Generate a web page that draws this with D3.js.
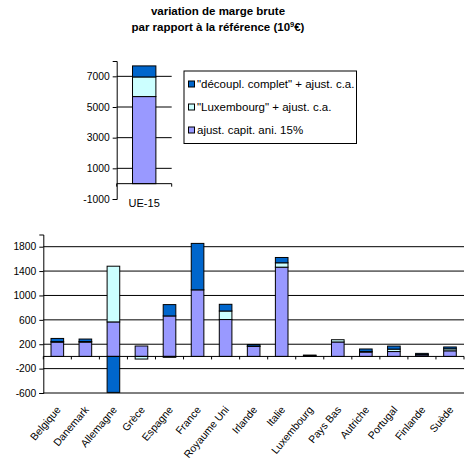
<!DOCTYPE html>
<html>
<head>
<meta charset="utf-8">
<script src="https://cdn.jsdelivr.net/npm/d3@7"></script>
<style>
  body { margin: 0; background: #fff; }
  svg { display: block; font-family: "Liberation Sans", Arial, sans-serif; }
</style>
</head>
<body>
<svg id="svg" width="466" height="470"></svg>
<script>
// series names (legend order, top to bottom)
var seriesNames = ['"découpl. complet" + ajust. c.a.', '"Luxembourg" + ajust. c.a.', 'ajust. capit. ani. 15%'];
var seriesKeys = ['ajust', 'lux', 'decoupl'];   // stacking order, bottom first

// EU total (top chart)
var euLabel = ['UE-15'];
var euAjust = [5680];
var euLux = [1280];
var euDecoupl = [720];
var euTicks = [-1000, 1000, 3000, 5000, 7000];

// per country (bottom chart)
var countries = ['Belgique', 'Danemark', 'Allemagne', 'Grèce', 'Espagne', 'France', 'Royaume Uni',
    'Irlande', 'Italie', 'Luxembourg', 'Pays Bas', 'Autriche', 'Portugal', 'Finlande', 'Suède'];
var ajust   = [235, 235, 566, 171, 664, 1092, 605, 165, 1464, 10, 237, 72, 80, 25, 92];
var lux     = [8, 10, 914, -43, -15, 0, 140, 5, 72, 0, 37, 10, 40, 5, 33];
var decoupl = [52, 40, -590, 0, 186, 762, 110, 25, 87, 12, 0, 40, 50, 20, 30];
var countryTicks = [-600, -200, 200, 600, 1000, 1400, 1800];

var colors = { ajust: '#9999ff', lux: '#ccffff', decoupl: '#0066cc' };
var legendKeys = ['decoupl', 'lux', 'ajust'];

var svg = d3.select('svg');

// title
svg.append('text')
    .attr('x', 218).attr('y', 15)
    .attr('text-anchor', 'middle')
    .attr('font-size', 11.5).attr('font-weight', 'bold')
    .text('variation de marge brute');
var t2 = svg.append('text')
    .attr('x', 218).attr('y', 31)
    .attr('text-anchor', 'middle')
    .attr('font-size', 11.5).attr('font-weight', 'bold');
t2.append('tspan').text('par rapport à la référence (10');
t2.append('tspan').attr('font-size', 7.5).attr('dy', -4).text('9');
t2.append('tspan').attr('dy', 4).text('€)');

function makeRows(labels, a, l, d) {
    return labels.map(function (c, i) {
        return { cat: c, ajust: a[i], lux: l[i], decoupl: d[i] };
    });
}

var stack = d3.stack().keys(seriesKeys).offset(d3.stackOffsetDiverging);

function drawChart(rows, opts) {
    var g = svg.append('g');
    var x = d3.scaleBand()
        .domain(rows.map(function (d) { return d.cat; }))
        .range([opts.left, opts.right])
        .paddingInner(opts.pad).paddingOuter(opts.pad / 2);
    var y = d3.scaleLinear().domain(opts.domain).range([opts.bottom, opts.top]);

    // gridlines
    g.selectAll('line.grid')
        .data(opts.grid)
        .enter()
        .append('line')
        .attr('x1', opts.left).attr('x2', opts.right)
        .attr('y1', function (d) { return y(d); })
        .attr('y2', function (d) { return y(d); })
        .attr('stroke', '#000').attr('stroke-width', 1);

    // y axis
    var yAxis = d3.axisLeft(y).tickValues(opts.ticks).tickSize(4).tickPadding(3)
        .tickFormat(function (d) { return String(d); });
    var ya = g.append('g')
        .attr('transform', 'translate(' + opts.left + ',0)')
        .call(yAxis);
    ya.select('.domain').attr('stroke', '#000');
    ya.selectAll('text').attr('font-size', 10.3).attr('fill', '#000')
        .style('font-family', '"Liberation Sans", Arial, sans-serif');

    // bars
    var layers = g.selectAll('g.layer')
        .data(stack(rows))
        .enter()
        .append('g')
        .attr('fill', function (d) { return colors[d.key]; });
    layers.selectAll('rect')
        .data(function (d) { return d.filter(function (s) { return s[1] !== s[0]; }); })
        .enter()
        .append('rect')
        .attr('x', function (d) { return x(d.data.cat); })
        .attr('width', x.bandwidth())
        .attr('y', function (d) { return y(Math.max(d[0], d[1])); })
        .attr('height', function (d) { return Math.abs(y(d[0]) - y(d[1])); })
        .attr('stroke', '#000').attr('stroke-width', 1);

    // category axis at zero
    var step = x.step();
    var bounds = d3.range(rows.length + 1).map(function (i) { return opts.left + i * step; });
    g.append('line')
        .attr('x1', opts.left).attr('x2', opts.right)
        .attr('y1', y(0)).attr('y2', y(0))
        .attr('stroke', '#000');
    g.selectAll('line.tk')
        .data(bounds)
        .enter()
        .append('line')
        .attr('x1', function (d) { return d; }).attr('x2', function (d) { return d; })
        .attr('y1', y(0)).attr('y2', y(0) + 3)
        .attr('stroke', '#000');

    return { x: x, y: y };
}

// top chart: UE-15
var euChart = drawChart(makeRows(euLabel, euAjust, euLux, euDecoupl), {
    left: 116.7, right: 171.7, top: 61, bottom: 199,
    domain: [-1000, 8000], ticks: euTicks, grid: [1000, 3000, 5000, 7000], pad: 0.575
});
svg.append('text')
    .attr('x', euChart.x('UE-15') + euChart.x.bandwidth() / 2)
    .attr('y', 207)
    .attr('text-anchor', 'middle')
    .attr('font-size', 11)
    .text(euLabel[0]);

// legend
var lg = svg.append('g').attr('transform', 'translate(184,71)');
lg.append('rect')
    .attr('width', 172.5).attr('height', 72.5)
    .attr('fill', '#fff').attr('stroke', '#000');
var items = lg.selectAll('g.item')
    .data(legendKeys)
    .enter()
    .append('g')
    .attr('transform', function (d, i) { return 'translate(4,' + (13 + i * 23) + ')'; });
items.append('rect')
    .attr('x', 0.5).attr('y', -3)
    .attr('width', 6).attr('height', 6)
    .attr('fill', function (d) { return colors[d]; })
    .attr('stroke', '#000');
items.append('text')
    .attr('x', 9).attr('y', 4)
    .attr('font-size', 11.5)
    .text(function (d, i) { return seriesNames[i]; });

// bottom chart: countries
var countryChart = drawChart(makeRows(countries, ajust, lux, decoupl), {
    left: 43.3, right: 464, top: 234.5, bottom: 393,
    domain: [-600, 2000], ticks: countryTicks, grid: countryTicks, pad: 0.55
});

svg.selectAll('text.country')
    .data(countries)
    .enter()
    .append('text')
    .attr('class', 'country')
    .attr('font-size', 10.5)
    .attr('text-anchor', 'end')
    .attr('transform', function (d) {
        var cx = countryChart.x(d) + countryChart.x.bandwidth() / 2 + 4;
        return 'translate(' + cx + ',410) rotate(-50)';
    })
    .text(function (d) { return d; });
</script>
</body>
</html>
